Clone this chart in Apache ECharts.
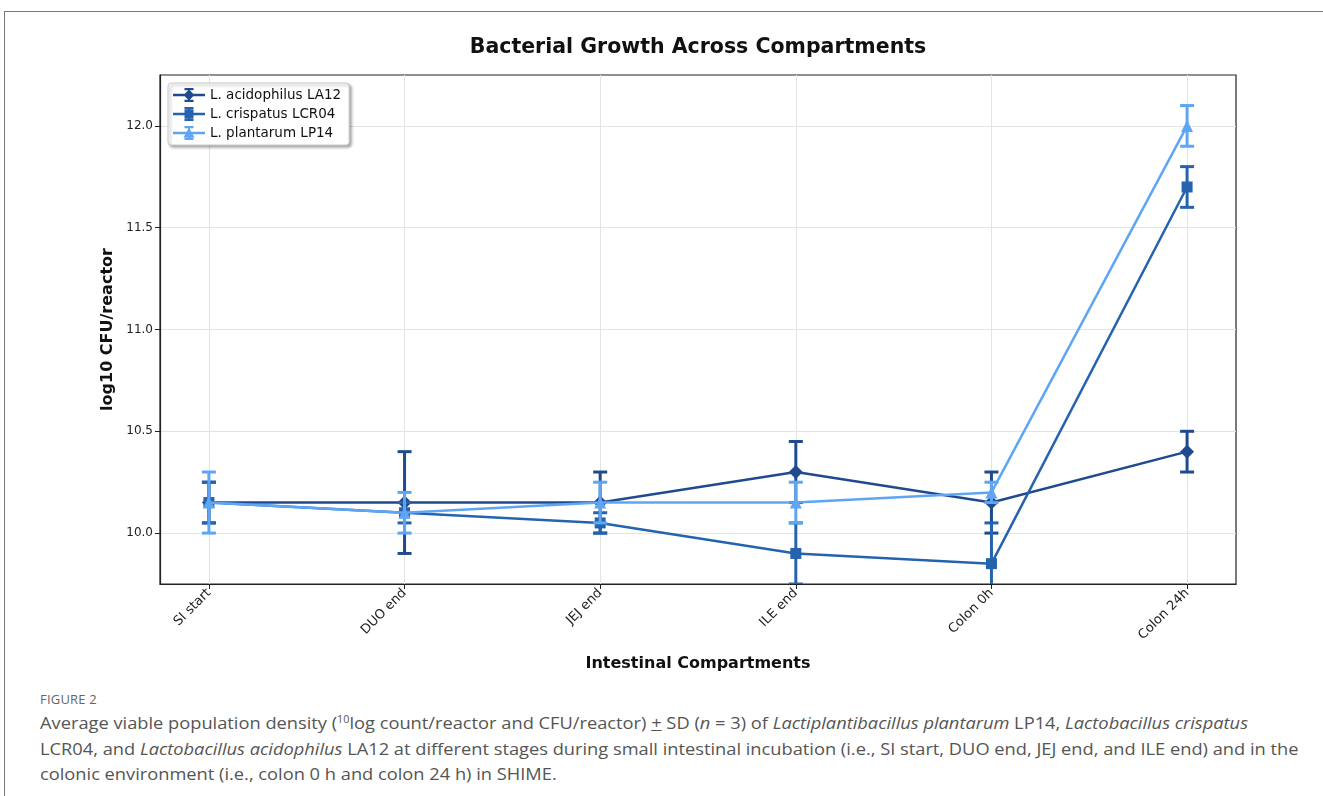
<!DOCTYPE html>
<html>
<head>
<meta charset="utf-8">
<script src="https://cdn.jsdelivr.net/npm/echarts@6/dist/echarts.min.js"></script>
<style>
  html, body { margin: 0; padding: 0; background: #fff; }
  #wrap { position: relative; width: 1323px; height: 796px; overflow: hidden; }
  #frame { position: absolute; left: 4px; top: 11px; right: 0; bottom: 0;
           border-top: 1px solid #7a7a7a; border-left: 1px solid #7a7a7a; }
  #chart { position: absolute; left: 0; top: 0; width: 1323px; height: 680px; }
  #caption { position: absolute; left: 40px; top: 688px; color: #555;
             font-family: "Liberation Sans Narrow", "Open Sans", sans-serif; }
  #caption .fig { font-size: 13px; color: #666; letter-spacing: 0.2px; height: 22px; line-height: 22px; }
  #caption .ln { font-size: 17px; line-height: 25.5px; white-space: nowrap; }
  #caption .ln span { display: inline-block; transform-origin: 0 50%; }
  #caption i { font-style: italic; }
  #caption sup { font-size: 10px; vertical-align: 6px; line-height: 0; }
</style>
</head>
<body>
<div id="wrap">
  <div id="frame"></div>
  <div id="chart"></div>
  <div id="caption">
    <div class="fig">FIGURE 2</div>
    <div class="ln"><span>Average viable population density (<sup>10</sup>log count/reactor and CFU/reactor) <u>+</u> SD (<i>n</i> = 3) of <i>Lactiplantibacillus plantarum</i> LP14, <i>Lactobacillus crispatus</i></span></div>
    <div class="ln"><span>LCR04, and <i>Lactobacillus acidophilus</i> LA12 at different stages during small intestinal incubation (i.e., SI start, DUO end, JEJ end, and ILE end) and in the</span></div>
    <div class="ln"><span>colonic environment (i.e., colon 0 h and colon 24 h) in SHIME.</span></div>
  </div>
</div>
<script>
// Compartments along the simulated gut
const compartments = ['SI start', 'DUO end', 'JEJ end', 'ILE end', 'Colon 0h', 'Colon 24h'];

// Mean log10 CFU/reactor per strain
const la12Mean  = [10.15, 10.15, 10.15, 10.30, 10.15, 10.40];
const lcr04Mean = [10.15, 10.10, 10.05, 9.90, 9.85, 11.70];
const lp14Mean  = [10.15, 10.10, 10.15, 10.15, 10.20, 12.00];

// Standard deviations (n = 3)
const la12Sd  = [0.10, 0.25, 0.15, 0.15, 0.15, 0.10];
const lcr04Sd = [0.10, 0.05, 0.05, 0.15, 0.20, 0.10];
const lp14Sd  = [0.15, 0.10, 0.10, 0.10, 0.05, 0.10];

const yTicks = [10.0, 10.5, 11.0, 11.5, 12.0];

// Legend glyphs (32 x 14 box): line, capped error bar and the strain's marker
const barPath = 'M0 5.8 L32 5.8 L32 8.2 L0 8.2 Z ' +
                'M15 0 L17 0 L17 14 L15 14 Z ' +
                'M11.5 0 L20.5 0 L20.5 2.2 L11.5 2.2 Z ' +
                'M11.5 11.8 L20.5 11.8 L20.5 14 L11.5 14 Z ';
const legendIcons = {
  diamond:  'path://' + barPath + 'M16 1.5 L21.5 7 L16 12.5 L10.5 7 Z',
  rect:     'path://' + barPath + 'M11.5 2.5 L20.5 2.5 L20.5 11.5 L11.5 11.5 Z',
  triangle: 'path://' + barPath + 'M16 1.5 L21.5 11.5 L10.5 11.5 Z'
};

const strains = [
  { name: 'L. acidophilus LA12', mean: la12Mean,  sd: la12Sd,  color: '#1f4b8e', symbol: 'diamond',  size: 14 },
  { name: 'L. crispatus LCR04',  mean: lcr04Mean, sd: lcr04Sd, color: '#2563ae', symbol: 'rect',     size: 11 },
  { name: 'L. plantarum LP14',   mean: lp14Mean,  sd: lp14Sd,  color: '#5ea6f4', symbol: 'triangle', size: 12 }
];

const xIdx = compartments.map((_, i) => i);

function errorSeries(s, z) {
  return {
    type: 'custom',
    name: s.name + ' SD',
    z: z,
    silent: true,
    clip: true,
    itemStyle: { color: s.color },
    data: s.mean.map((m, i) => [i, m - s.sd[i], m + s.sd[i]]),
    encode: { x: 0, y: [1, 2] },
    renderItem: function (params, api) {
      const lo = api.coord([api.value(0), api.value(1)]);
      const hi = api.coord([api.value(0), api.value(2)]);
      const hw = 7;
      const st = { stroke: s.color, lineWidth: 3 };
      return {
        type: 'group',
        children: [
          { type: 'line', shape: { x1: lo[0], y1: lo[1], x2: hi[0], y2: hi[1] }, style: st },
          { type: 'line', shape: { x1: lo[0] - hw, y1: lo[1], x2: lo[0] + hw, y2: lo[1] }, style: st },
          { type: 'line', shape: { x1: hi[0] - hw, y1: hi[1], x2: hi[0] + hw, y2: hi[1] }, style: st }
        ]
      };
    }
  };
}

const series = [];
strains.forEach((s, k) => {
  series.push({
    type: 'line',
    name: s.name,
    z: 3 + k * 2,
    data: s.mean.map((m, i) => [i, m]),
    symbol: s.symbol,
    symbolSize: s.size,
    showSymbol: true,
    lineStyle: { color: s.color, width: 2.5 },
    itemStyle: { color: s.color },
    emphasis: { disabled: true }
  });
});
strains.forEach((s, k) => series.push(errorSeries(s, 2 + k * 2)));

const chart = echarts.init(document.getElementById('chart'), null, { renderer: 'canvas' });
chart.setOption({
  animation: false,
  backgroundColor: 'transparent',
  title: {
    text: 'Bacterial Growth Across Compartments',
    left: 693, top: 32, textAlign: 'center',
    textStyle: { fontFamily: 'DejaVu Sans', fontWeight: 'bold', fontSize: 20.5, color: '#111' }
  },
  legend: {
    data: strains.map(s => ({ name: s.name, icon: legendIcons[s.symbol] })),
    orient: 'vertical',
    left: 168, top: 83,
    itemWidth: 32, itemHeight: 14, itemGap: 5,
    padding: [5, 8, 5, 5],
    backgroundColor: '#fff',
    borderColor: '#cccccc', borderWidth: 1, borderRadius: 3,
    shadowColor: 'rgba(0,0,0,0.35)', shadowBlur: 3, shadowOffsetX: 2, shadowOffsetY: 2,
    textStyle: { fontFamily: 'DejaVu Sans', fontSize: 13.5, color: '#111' }
  },
  grid: {
    left: 160, right: 87, top: 75, bottom: 96,
    show: true, borderColor: '#222', borderWidth: 1.2, backgroundColor: 'transparent'
  },
  xAxis: {
    type: 'value',
    min: -0.25, max: 5.25,
    name: 'Intestinal Compartments',
    nameLocation: 'middle', nameGap: 72,
    nameTextStyle: { fontFamily: 'DejaVu Sans', fontWeight: 'bold', fontSize: 16, color: '#111' },
    axisLine: { show: true, onZero: false, lineStyle: { color: '#222', width: 1.2 } },
    axisTick: { show: true, length: 5, customValues: xIdx, lineStyle: { color: '#222' } },
    axisLabel: {
      customValues: xIdx, rotate: 45, margin: 7,
      fontFamily: 'DejaVu Sans', fontSize: 13, color: '#222',
      formatter: v => compartments[Math.round(v)]
    },
    splitLine: { show: true, lineStyle: { color: '#e3e3e3', width: 1 } }
  },
  yAxis: {
    type: 'value',
    min: 9.75, max: 12.25,
    name: 'log10 CFU/reactor',
    nameLocation: 'middle', nameGap: 37,
    nameTextStyle: { fontFamily: 'DejaVu Sans', fontWeight: 'bold', fontSize: 16, color: '#111' },
    axisLine: { show: true, onZero: false, lineStyle: { color: '#222', width: 1.2 } },
    axisTick: { show: true, length: 5, customValues: yTicks, lineStyle: { color: '#222' } },
    axisLabel: {
      customValues: yTicks, margin: 7,
      fontFamily: 'DejaVu Sans', fontSize: 12, color: '#222',
      formatter: v => v.toFixed(1)
    },
    splitLine: { show: true, lineStyle: { color: '#e3e3e3', width: 1 } }
  },
  series: series
});

// Squeeze the caption text so its first line fills the text column; all lines share the factor
(function () {
  const spans = document.querySelectorAll('#caption .ln span');
  const target = 1208;
  const w = spans[0].getBoundingClientRect().width;
  const k = target / w;
  spans.forEach(sp => { sp.style.transform = 'scaleX(' + k + ')'; });
})();
</script>
</body>
</html>
